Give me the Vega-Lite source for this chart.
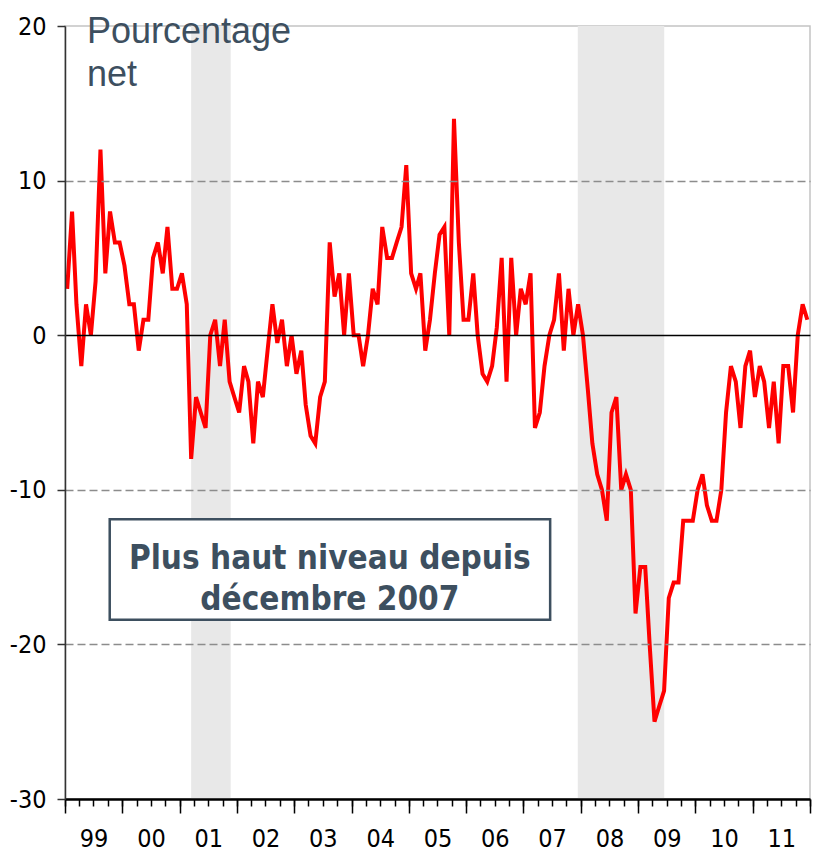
{
  "$schema": "https://vega.github.io/schema/vega-lite/v6.json",
  "width": 745,
  "height": 773,
  "autosize": {"type": "none"},
  "padding": {"left": 65, "top": 26, "right": 7, "bottom": 59},
  "background": "#ffffff",
  "config": {
    "view": {"stroke": "#c4c4c4", "strokeWidth": 1.5},
    "axis": {"labelFont": "DejaVu Sans Condensed, Liberation Sans, sans-serif", "labelColor": "#000000"}
  },
  "resolve": {"axis": {"x": "independent"}},
  "layer": [
    {
      "data": {"values": [
        {"start": "2001-03-15", "end": "2001-11-22"},
        {"start": "2007-12-13", "end": "2009-06-16"}
      ]},
      "mark": {"type": "rect", "fill": "#e8e8e8"},
      "encoding": {
        "x": {"field": "start", "type": "temporal",
          "scale": {"type": "utc", "domain": [{"year": 1999, "month": 1, "date": 1, "utc": true}, {"year": 2012, "month": 1, "date": 1, "utc": true}]},
          "axis": {"orient": "bottom", "title": null, "labels": false, "grid": false,
            "values": [
              {"year": 1999, "utc": true}, {"year": 2000, "utc": true}, {"year": 2001, "utc": true},
              {"year": 2002, "utc": true}, {"year": 2003, "utc": true}, {"year": 2004, "utc": true},
              {"year": 2005, "utc": true}, {"year": 2006, "utc": true}, {"year": 2007, "utc": true},
              {"year": 2008, "utc": true}, {"year": 2009, "utc": true}, {"year": 2010, "utc": true},
              {"year": 2011, "utc": true}, {"year": 2012, "utc": true}],
            "tickSize": 14, "tickColor": "#000000", "tickWidth": 1.5,
            "domain": true, "domainColor": "#000000", "domainWidth": 2.5, "zindex": 1}},
        "x2": {"field": "end"}
      }
    },
    {
      "data": {"values": [{"k": 1}]},
      "mark": {"type": "rect", "fill": "#ffffff", "stroke": "#3d4f5f", "strokeWidth": 2.5},
      "encoding": {
        "x": {"datum": {"year": 1999, "month": 10, "date": 13, "utc": true}, "type": "temporal",
          "axis": {"orient": "bottom", "title": null, "labels": false, "grid": false, "domain": false,
            "tickCount": {"interval": "month", "step": 3},
            "tickSize": 7, "tickColor": "#000000", "tickWidth": 1.5}},
        "x2": {"datum": {"year": 2007, "month": 6, "date": 20, "utc": true}},
        "y": {"datum": -11.9, "type": "quantitative", "title": null},
        "y2": {"datum": -18.4}
      }
    },
    {
      "data": {"values": [
        {"d": "1999-01-15", "v": 3}, {"d": "1999-02-15", "v": 8}, {"d": "1999-03-15", "v": 2}, {"d": "1999-04-15", "v": -2},
        {"d": "1999-05-15", "v": 2}, {"d": "1999-06-15", "v": 0}, {"d": "1999-07-15", "v": 3.5}, {"d": "1999-08-15", "v": 12},
        {"d": "1999-09-15", "v": 4}, {"d": "1999-10-15", "v": 8}, {"d": "1999-11-15", "v": 6}, {"d": "1999-12-15", "v": 6},
        {"d": "2000-01-15", "v": 4.5}, {"d": "2000-02-15", "v": 2}, {"d": "2000-03-15", "v": 2}, {"d": "2000-04-15", "v": -1},
        {"d": "2000-05-15", "v": 1}, {"d": "2000-06-15", "v": 1}, {"d": "2000-07-15", "v": 5}, {"d": "2000-08-15", "v": 6},
        {"d": "2000-09-15", "v": 4}, {"d": "2000-10-15", "v": 7}, {"d": "2000-11-15", "v": 3}, {"d": "2000-12-15", "v": 3},
        {"d": "2001-01-15", "v": 4}, {"d": "2001-02-15", "v": 2}, {"d": "2001-03-15", "v": -8}, {"d": "2001-04-15", "v": -4},
        {"d": "2001-05-15", "v": -5}, {"d": "2001-06-15", "v": -6}, {"d": "2001-07-15", "v": 0}, {"d": "2001-08-15", "v": 1},
        {"d": "2001-09-15", "v": -2}, {"d": "2001-10-15", "v": 1}, {"d": "2001-11-15", "v": -3}, {"d": "2001-12-15", "v": -4},
        {"d": "2002-01-15", "v": -5}, {"d": "2002-02-15", "v": -2}, {"d": "2002-03-15", "v": -3}, {"d": "2002-04-15", "v": -7},
        {"d": "2002-05-15", "v": -3}, {"d": "2002-06-15", "v": -4}, {"d": "2002-07-15", "v": -1}, {"d": "2002-08-15", "v": 2},
        {"d": "2002-09-15", "v": -0.5}, {"d": "2002-10-15", "v": 1}, {"d": "2002-11-15", "v": -2}, {"d": "2002-12-15", "v": 0},
        {"d": "2003-01-15", "v": -2.5}, {"d": "2003-02-15", "v": -1}, {"d": "2003-03-15", "v": -4.5}, {"d": "2003-04-15", "v": -6.5},
        {"d": "2003-05-15", "v": -7}, {"d": "2003-06-15", "v": -4}, {"d": "2003-07-15", "v": -3}, {"d": "2003-08-15", "v": 6},
        {"d": "2003-09-15", "v": 2.5}, {"d": "2003-10-15", "v": 4}, {"d": "2003-11-15", "v": 0}, {"d": "2003-12-15", "v": 4},
        {"d": "2004-01-15", "v": 0}, {"d": "2004-02-15", "v": 0}, {"d": "2004-03-15", "v": -2}, {"d": "2004-04-15", "v": 0},
        {"d": "2004-05-15", "v": 3}, {"d": "2004-06-15", "v": 2}, {"d": "2004-07-15", "v": 7}, {"d": "2004-08-15", "v": 5},
        {"d": "2004-09-15", "v": 5}, {"d": "2004-10-15", "v": 6}, {"d": "2004-11-15", "v": 7}, {"d": "2004-12-15", "v": 11},
        {"d": "2005-01-15", "v": 4}, {"d": "2005-02-15", "v": 3}, {"d": "2005-03-15", "v": 4}, {"d": "2005-04-15", "v": -1},
        {"d": "2005-05-15", "v": 1}, {"d": "2005-06-15", "v": 4}, {"d": "2005-07-15", "v": 6.5}, {"d": "2005-08-15", "v": 7},
        {"d": "2005-09-15", "v": 0}, {"d": "2005-10-15", "v": 14}, {"d": "2005-11-15", "v": 6}, {"d": "2005-12-15", "v": 1},
        {"d": "2006-01-15", "v": 1}, {"d": "2006-02-15", "v": 4}, {"d": "2006-03-15", "v": 0}, {"d": "2006-04-15", "v": -2.5},
        {"d": "2006-05-15", "v": -3}, {"d": "2006-06-15", "v": -2}, {"d": "2006-07-15", "v": 0.5}, {"d": "2006-08-15", "v": 5},
        {"d": "2006-09-15", "v": -3}, {"d": "2006-10-15", "v": 5}, {"d": "2006-11-15", "v": 0}, {"d": "2006-12-15", "v": 3},
        {"d": "2007-01-15", "v": 2}, {"d": "2007-02-15", "v": 4}, {"d": "2007-03-15", "v": -6}, {"d": "2007-04-15", "v": -5},
        {"d": "2007-05-15", "v": -2}, {"d": "2007-06-15", "v": 0}, {"d": "2007-07-15", "v": 1}, {"d": "2007-08-15", "v": 4},
        {"d": "2007-09-15", "v": -1}, {"d": "2007-10-15", "v": 3}, {"d": "2007-11-15", "v": 0}, {"d": "2007-12-15", "v": 2},
        {"d": "2008-01-15", "v": 0}, {"d": "2008-02-15", "v": -3.5}, {"d": "2008-03-15", "v": -7}, {"d": "2008-04-15", "v": -9},
        {"d": "2008-05-15", "v": -10}, {"d": "2008-06-15", "v": -12}, {"d": "2008-07-15", "v": -5}, {"d": "2008-08-15", "v": -4},
        {"d": "2008-09-15", "v": -10}, {"d": "2008-10-15", "v": -9}, {"d": "2008-11-15", "v": -10}, {"d": "2008-12-15", "v": -18},
        {"d": "2009-01-15", "v": -15}, {"d": "2009-02-15", "v": -15}, {"d": "2009-03-15", "v": -20}, {"d": "2009-04-15", "v": -25},
        {"d": "2009-05-15", "v": -24}, {"d": "2009-06-15", "v": -23}, {"d": "2009-07-15", "v": -17}, {"d": "2009-08-15", "v": -16},
        {"d": "2009-09-15", "v": -16}, {"d": "2009-10-15", "v": -12}, {"d": "2009-11-15", "v": -12}, {"d": "2009-12-15", "v": -12},
        {"d": "2010-01-15", "v": -10}, {"d": "2010-02-15", "v": -9}, {"d": "2010-03-15", "v": -11}, {"d": "2010-04-15", "v": -12},
        {"d": "2010-05-15", "v": -12}, {"d": "2010-06-15", "v": -10}, {"d": "2010-07-15", "v": -5}, {"d": "2010-08-15", "v": -2},
        {"d": "2010-09-15", "v": -3}, {"d": "2010-10-15", "v": -6}, {"d": "2010-11-15", "v": -2}, {"d": "2010-12-15", "v": -1},
        {"d": "2011-01-15", "v": -4}, {"d": "2011-02-15", "v": -2}, {"d": "2011-03-15", "v": -3}, {"d": "2011-04-15", "v": -6},
        {"d": "2011-05-15", "v": -3}, {"d": "2011-06-15", "v": -7}, {"d": "2011-07-15", "v": -2}, {"d": "2011-08-15", "v": -2},
        {"d": "2011-09-15", "v": -5}, {"d": "2011-10-15", "v": 0}, {"d": "2011-11-15", "v": 2}, {"d": "2011-12-15", "v": 1}
      ]},
      "mark": {"type": "line", "color": "#ff0000", "strokeWidth": 4, "interpolate": "linear", "strokeJoin": "miter"},
      "encoding": {
        "x": {"field": "d", "type": "temporal",
          "axis": {"orient": "bottom", "title": null, "grid": false, "domain": false, "ticks": false, "tickSize": 0,
            "values": [
              {"year": 1999, "month": 7, "date": 2, "utc": true}, {"year": 2000, "month": 7, "date": 2, "utc": true},
              {"year": 2001, "month": 7, "date": 2, "utc": true}, {"year": 2002, "month": 7, "date": 2, "utc": true},
              {"year": 2003, "month": 7, "date": 2, "utc": true}, {"year": 2004, "month": 7, "date": 2, "utc": true},
              {"year": 2005, "month": 7, "date": 2, "utc": true}, {"year": 2006, "month": 7, "date": 2, "utc": true},
              {"year": 2007, "month": 7, "date": 2, "utc": true}, {"year": 2008, "month": 7, "date": 2, "utc": true},
              {"year": 2009, "month": 7, "date": 2, "utc": true}, {"year": 2010, "month": 7, "date": 2, "utc": true},
              {"year": 2011, "month": 7, "date": 2, "utc": true}],
            "format": "%y", "labelPadding": 27, "labelFontSize": 25, "labelOverlap": false, "labelFlush": false}},
        "y": {"field": "v", "type": "quantitative", "title": null,
          "scale": {"domain": [-30, 20], "nice": false, "zero": false},
          "axis": {"orient": "left", "title": null, "values": [20, 10, 0, -10, -20, -30],
            "labelExpr": "replace(datum.label, '\u2212', '-')",
            "domainColor": "#333333", "domainWidth": 1.5,
            "tickColor": "#333333", "tickSize": 8, "tickWidth": 1.5,
            "labelFontSize": 25, "labelPadding": 11,
            "grid": true, "gridWidth": 1.3,
            "gridColor": {"condition": {"test": "datum.value === 0", "value": "#000000"}, "value": "#8c8c8c"},
            "gridDash": {"condition": {"test": "datum.value === 0", "value": []}, "value": [8, 4]},
            "gridOpacity": {"condition": {"test": "datum.value === 20 || datum.value === -30", "value": 0}, "value": 1},
            "zindex": 1}}
      }
    },
    {
      "data": {"values": [{"label": "Plus haut niveau depuis\ndécembre 2007"}]},
      "mark": {"type": "text", "font": "DejaVu Sans Condensed, Liberation Sans, sans-serif", "fontWeight": "bold", "fontSize": 33,
        "color": "#3d4f5f", "align": "center", "baseline": "alphabetic", "lineBreak": "\n", "lineHeight": 41},
      "encoding": {
        "x": {"datum": {"year": 2003, "month": 8, "date": 16, "utc": true}, "type": "temporal", "axis": null},
        "y": {"datum": -15.15, "type": "quantitative", "title": null},
        "text": {"field": "label"}
      }
    },
    {
      "data": {"values": [{"label": "Pourcentage\nnet"}]},
      "mark": {"type": "text", "font": "Liberation Sans, Arial, sans-serif", "fontSize": 36,
        "color": "#3d4f5f", "align": "left", "baseline": "alphabetic", "lineBreak": "\n", "lineHeight": 43},
      "encoding": {
        "x": {"datum": {"year": 1999, "month": 5, "date": 21, "utc": true}, "type": "temporal", "axis": null},
        "y": {"datum": 18.9, "type": "quantitative", "title": null},
        "text": {"field": "label"}
      }
    }
  ]
}
